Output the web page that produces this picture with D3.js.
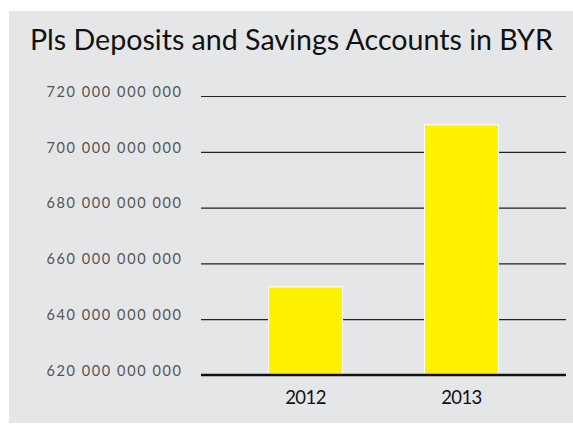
<!DOCTYPE html>
<html>
<head>
<meta charset="utf-8">
<script src="https://cdn.jsdelivr.net/npm/d3@7"></script>
<style>
  html, body { margin: 0; padding: 0; background: #ffffff; }
  svg { display: block; }
</style>
</head>
<body>
<svg id="chart" width="573" height="424"></svg>
<script>
// Private individuals' deposits and savings accounts, Belarusian roubles
const years = ["2012", "2013"];
const deposits = [651600000000, 709700000000];
const yTicks = [620000000000, 640000000000, 660000000000, 680000000000, 700000000000, 720000000000];
const titleText = "Pls Deposits and Savings Accounts in BYR";

const svg = d3.select("#chart");
const W = 573, H = 424;
const fontFamily = "Lato, 'Open Sans', sans-serif";

// panel background
svg.append("rect")
  .attr("x", 9).attr("y", 11)
  .attr("width", W - 9).attr("height", H - 12)
  .attr("fill", "#e5e6e8");

svg.append("text")
  .attr("x", 30).attr("y", 50)
  .attr("font-family", fontFamily)
  .attr("font-size", 28.6)
  .attr("fill", "#111")
  .text(titleText);

const plot = { left: 201, right: 566, top: 96, bottom: 375 };

const y = d3.scaleLinear()
  .domain([620000000000, 720000000000])
  .range([plot.bottom, plot.top]);

const x = d3.scaleBand()
  .domain(years)
  .range([plot.left, plot.right])
  .paddingInner(0.526)
  .paddingOuter(0.433);

const fmt = v => d3.format(",")(v).replace(/,/g, " ");

// horizontal gridlines with left labels
const yAxis = d3.axisLeft(y)
  .tickValues(yTicks)
  .tickSize(-(plot.right - plot.left))
  .tickPadding(18.5)
  .tickFormat(fmt);

const gy = svg.append("g")
  .attr("transform", `translate(${plot.left},0)`)
  .call(yAxis);
gy.select(".domain").remove();
gy.selectAll(".tick line")
  .attr("stroke", "#222")
  .attr("stroke-width", 1.2);
gy.selectAll(".tick text")
  .attr("font-family", fontFamily)
  .attr("font-size", 14.5)
  .attr("letter-spacing", "1.6px")
  .attr("fill", "#555")
  .attr("dy", "0.02em");

// bars
svg.append("g")
  .selectAll("rect")
  .data(years.map((yr, i) => ({ yr, v: deposits[i] })))
  .join("rect")
  .attr("x", d => x(d.yr))
  .attr("width", x.bandwidth())
  .attr("y", d => y(d.v))
  .attr("height", d => y(620000000000) - y(d.v))
  .attr("fill", "#fff200")
  .attr("stroke", "#ffffff")
  .attr("stroke-width", 1);

// baseline
svg.append("line")
  .attr("x1", plot.left).attr("x2", plot.right)
  .attr("y1", plot.bottom).attr("y2", plot.bottom)
  .attr("stroke", "#111")
  .attr("stroke-width", 2.5);

// category axis
const gx = svg.append("g")
  .attr("transform", `translate(0,${plot.bottom})`)
  .call(d3.axisBottom(x).tickSize(0).tickPadding(16));
gx.select(".domain").remove();
gx.selectAll(".tick text")
  .attr("font-family", fontFamily)
  .attr("font-size", 18.5)
  .attr("letter-spacing", "-0.6px")
  .attr("fill", "#111");
</script>
</body>
</html>
